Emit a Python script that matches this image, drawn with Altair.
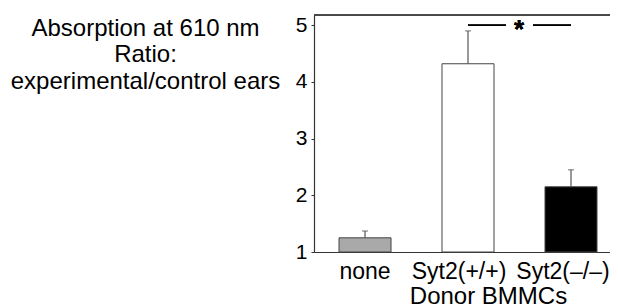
import altair as alt
import pandas as pd

# data
categories = ["none", "Syt2(+/+)", "Syt2(–/–)"]
means = [1.25, 4.32, 2.15]
err_upper = [1.37, 4.90, 2.45]
fills = ["#a9a9a9", "#ffffff", "#000000"]
y_ticks = [1, 2, 3, 4, 5]
sig_pair = ["Syt2(+/+)", "Syt2(–/–)"]
sig_level = 5.0
y_title = ["Absorption at 610 nm", "Ratio:", "experimental/control ears"]
x_title = "Donor BMMCs"

df = pd.DataFrame({"cat": categories, "mean": means, "hi": err_upper, "fill": fills})

FONT = "Liberation Sans"
W, H = 296, 237

xs = alt.Scale(domain=categories, paddingInner=0.495, paddingOuter=0.1845, align=0.658)
ys = alt.Scale(domain=[1, 5.18], zero=False, nice=False)

label_shift = {"condition": [
    {"test": "datum.value == '" + categories[1] + "'", "value": -9},
    {"test": "datum.value == '" + categories[2] + "'", "value": -8},
], "value": 0}

x_enc = alt.X("cat:N", scale=xs, sort=categories,
              axis=alt.Axis(title=x_title, labelAngle=0, ticks=False, labelFont=FONT,
                            labelFontSize=23, labelColor="#000", labelPadding=8,
                            labelOffset=label_shift,
                            domainColor="#333", domainWidth=1.2,
                            titleFont=FONT, titleFontSize=24, titleFontWeight="normal",
                            titleColor="#000", titleX=174, titleY=51,
                            titleBaseline="alphabetic", titleAlign="center"))
y_axis = alt.Axis(values=y_ticks, format="d", title=y_title, grid=False, tickSize=3, tickColor="#333",
                  labelFont=FONT, labelFontSize=21, labelColor="#000", labelPadding=4,
                  domainColor="#333", domainWidth=1.2,
                  titleFont=FONT, titleFontSize=24, titleFontWeight="normal", titleColor="#000",
                  titleAngle=0, titleAlign="center", titleBaseline="alphabetic",
                  titleX=-169, titleY=20, titleLineHeight=26.5)

bars = alt.Chart(df).mark_bar(stroke="#444", strokeWidth=1).encode(
    x=x_enc,
    y=alt.Y("mean:Q", scale=ys, axis=y_axis),
    y2=alt.datum(1),
    fill=alt.Fill("fill:N", scale=None),
)

err = alt.Chart(df).mark_rule(color="#555", strokeWidth=1.2).encode(
    x=alt.X("cat:N", scale=xs, sort=categories),
    y=alt.Y("mean:Q", scale=ys),
    y2="hi:Q",
)
caps = alt.Chart(df).mark_tick(color="#555", orient="horizontal", size=6, thickness=1.2).encode(
    x=alt.X("cat:N", scale=xs, sort=categories),
    y=alt.Y("hi:Q", scale=ys),
)

sig1 = alt.Chart(df).mark_rule(color="#000", strokeWidth=1.5, x2Offset=38).encode(
    x=alt.datum(sig_pair[0], scale=xs), x2=alt.datum(sig_pair[0]), y=alt.datum(sig_level, scale=ys))
sig2 = alt.Chart(df).mark_rule(color="#000", strokeWidth=1.5, xOffset=-38).encode(
    x=alt.datum(sig_pair[1], scale=xs), x2=alt.datum(sig_pair[1]), y=alt.datum(sig_level, scale=ys))
star = alt.Chart(df).mark_text(text="*", font=FONT, fontSize=26, fontWeight="bold",
                               baseline="alphabetic", dx=51, dy=13, color="#000").encode(
    x=alt.datum(sig_pair[0], scale=xs), y=alt.datum(sig_level, scale=ys))

top = alt.Chart(df).mark_rule(color="#333", strokeWidth=1.2).encode(
    x=alt.value(0), x2=alt.value(W), y=alt.value(0))

chart = alt.layer(bars, err, caps, sig1, sig2, star, top).properties(
    width=W, height=H,
    autosize=alt.AutoSizeParams(type="none"),
    padding={"left": 306, "top": 7, "right": 0, "bottom": 56},
).configure_view(stroke=None).configure(background="white")

chart.save("out.html", embed_options={"renderer": "svg", "actions": False})
